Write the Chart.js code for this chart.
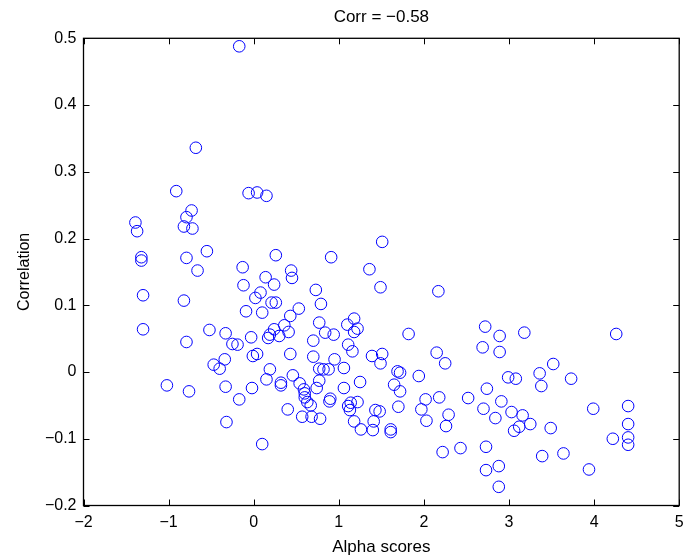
<!DOCTYPE html>
<html>
<head>
<meta charset="utf-8">
<script src="https://cdn.jsdelivr.net/npm/chart.js@4/dist/chart.umd.min.js"></script>
<style>
    html, body { margin: 0; padding: 0; background: #fff; }
    #wrap { width: 686px; height: 559px; }
</style>
</head>
<body>
<div id="wrap"><canvas id="corr-chart"></canvas></div>
<script>
const chartTitle = 'Corr = \u22120.58'
const xLabel = 'Alpha scores'
const yLabel = 'Correlation'
const xTicks = [-2, -1, 0, 1, 2, 3, 4, 5]
const yTicks = [-0.2, -0.1, 0, 0.1, 0.2, 0.3, 0.4, 0.5]

// alpha score of each point (x)
const alphaScores = [
    -0.17, -0.68, -0.91, -0.06, 0.04, 0.15, -0.73, -1.39, -1.37, -0.79,
    -0.82, -0.72, -1.32, -1.32, -0.79, -0.55, -0.66, -0.13, 0.26, 0.14,
    0.24, -0.12, 0.08, 0.02, 0.21, 0.26, -1.30, -0.82, -0.09, 0.10,
    -1.30, -0.52, -0.33, -0.03, 0.24, 0.19, 0.17, -0.79, -0.25, -0.19,
    -0.01, 0.04, -0.34, -0.47, -0.40, 0.19, 0.15, -1.02, -0.76, -0.33,
    -0.02, -0.17, -0.32, 0.10,
    1.51, 0.91, 1.36, 0.44, 0.45, 1.49, 2.17, 0.73, 0.79, 0.53,
    0.43, 0.77, 1.18, 1.10, 1.22, 1.18, 0.36, 0.41, 0.30, 0.84,
    0.94, 1.82, 0.70, 1.11, 1.16, 2.15, 0.43, 0.70, 0.95, 1.39,
    1.51, 1.49, 2.25, 0.32, 0.32, 0.46, 0.54, 0.77, 0.82, 0.88,
    1.06, 0.77, 0.74, 0.59, 0.60, 0.60, 0.63, 0.67, 0.40, 0.57,
    0.68, 0.78, 0.90, 0.89, 1.06, 1.25, 1.11, 1.14, 1.13, 1.22,
    1.18, 1.26, 1.40, 1.41, 1.43, 1.48, 1.61, 1.61, 1.69, 1.72,
    1.65, 1.72, 1.70, 1.94, 2.02, 1.97, 2.03, 2.18, 2.26, 2.22,
    2.72, 2.89, 3.18, 4.26, 2.69, 2.89, 3.52, 3.36, 2.99, 3.08,
    3.73, 3.38, 2.74, 2.52, 2.91, 2.70, 3.03, 3.16, 2.84, 2.29,
    3.25, 3.12, 3.06, 3.49, 3.99, 4.40, 4.40, 4.22, 4.40, 4.40,
    2.43, 2.73, 3.39, 3.64, 2.73, 2.88, 2.88, 3.94
]

// correlation of each point (y), same order
const correlations = [
    0.488, 0.336, 0.271, 0.268, 0.269, 0.264, 0.242, 0.224, 0.211, 0.232,
    0.218, 0.215, 0.172, 0.167, 0.171, 0.181, 0.152, 0.157, 0.175, 0.142,
    0.131, 0.130, 0.119, 0.111, 0.104, 0.104, 0.115, 0.107, 0.091, 0.089,
    0.064, 0.063, 0.058, 0.052, 0.064, 0.056, 0.051, 0.045, 0.042, 0.041,
    0.024, 0.027, 0.019, 0.011, 0.005, 0.004, -0.011, -0.020, -0.029, -0.022,
    -0.024, -0.041, -0.075, -0.108,
    0.195, 0.172, 0.154, 0.152, 0.141, 0.127, 0.121, 0.123, 0.102, 0.095,
    0.084, 0.074, 0.080, 0.071, 0.065, 0.060, 0.070, 0.060, 0.054, 0.059,
    0.056, 0.057, 0.047, 0.041, 0.031, 0.029, 0.027, 0.023, 0.019, 0.024,
    0.027, 0.013, 0.013, -0.016, -0.020, -0.005, -0.017, 0.005, 0.004, 0.004,
    0.006, -0.013, -0.024, -0.026, -0.032, -0.038, -0.045, -0.050, -0.056, -0.067,
    -0.067, -0.070, -0.040, -0.044, -0.024, -0.015, -0.051, -0.046, -0.057, -0.045,
    -0.074, -0.086, -0.087, -0.074, -0.057, -0.059, -0.086, -0.090, 0.001, -0.001,
    -0.019, -0.029, -0.052, -0.006, -0.041, -0.056, -0.073, -0.038, -0.081, -0.120,
    0.068, 0.054, 0.059, 0.057, 0.037, 0.030, 0.012, -0.002, -0.008, -0.010,
    -0.010, -0.021, -0.025, -0.039, -0.044, -0.055, -0.060, -0.065, -0.069, -0.064,
    -0.078, -0.082, -0.088, -0.084, -0.055, -0.051, -0.078, -0.100, -0.098, -0.109,
    -0.114, -0.112, -0.126, -0.122, -0.147, -0.141, -0.172, -0.146
]

let points = []
alphaScores.forEach((a, i) => {
    points.push({ x: a, y: correlations[i] })
})

function fmt(v) {
    v = Math.round(v * 10) / 10
    return v < 0 ? '\u2212' + Math.abs(v) : String(v)
}

// matlab style box with inward ticks on all four sides
const boxPlugin = {
    id: 'matlabBox',
    afterDraw(chart) {
        const { ctx, chartArea: a, scales } = chart
        ctx.save()
        ctx.strokeStyle = '#000'
        ctx.lineWidth = 1
        ctx.beginPath()
        xTicks.forEach(t => {
            const px = Math.round(scales.x.getPixelForValue(t)) + 0.5
            ctx.moveTo(px, a.bottom); ctx.lineTo(px, a.bottom - 6)
            ctx.moveTo(px, a.top); ctx.lineTo(px, a.top + 6)
        })
        yTicks.forEach(t => {
            const py = Math.round(scales.y.getPixelForValue(t)) + 0.5
            ctx.moveTo(a.left, py); ctx.lineTo(a.left + 6, py)
            ctx.moveTo(a.right, py); ctx.lineTo(a.right - 6, py)
        })
        ctx.stroke()
        ctx.lineWidth = 1.3
        ctx.strokeRect(a.left, a.top, a.right - a.left, a.bottom - a.top)
        ctx.restore()
    }
}

Chart.defaults.font.family = '"Liberation Sans", Arial, Helvetica, sans-serif'
Chart.defaults.font.size = 16
Chart.defaults.color = '#000'

const ctx = document.getElementById('corr-chart')
const myChart = new Chart(ctx, {
    type: 'scatter',
    data: {
        datasets: [{
            label: 'points',
            data: points,
            pointStyle: 'circle',
            pointRadius: 5.8,
            borderWidth: 1,
            borderColor: '#0000ff',
            backgroundColor: 'rgba(0,0,0,0)'
        }]
    },
    plugins: [boxPlugin],
    options: {
        responsive: true,
        maintainAspectRatio: false,
        animation: false,
        layout: {
            padding: { top: 0, right: 3.5, bottom: 0, left: 0 }
        },
        plugins: {
            legend: { display: false },
            tooltip: { enabled: false }
        },
        scales: {
            x: {
                type: 'linear',
                position: 'bottom',
                min: -2,
                max: 5,
                afterBuildTicks: s => { s.ticks = xTicks.map(v => ({ value: v })) },
                afterFit: s => { s.height = 53.5; s.paddingLeft = 0; s.paddingRight = 0 },
                grid: { display: false, drawTicks: false },
                border: { display: false },
                ticks: { padding: 7, callback: v => fmt(v), maxRotation: 0 },
                title: { display: true, text: xLabel, font: { size: 17 }, padding: { top: 0, bottom: 1.5 } }
            },
            top: {
                type: 'linear',
                position: 'top',
                min: -2,
                max: 5,
                afterFit: s => { s.height = 38.3; s.paddingLeft = 0; s.paddingRight = 0 },
                grid: { display: false, drawTicks: false },
                border: { display: false },
                ticks: { display: false },
                title: { display: true, text: chartTitle, font: { size: 17 }, padding: { top: 7.5, bottom: 0 } }
            },
            y: {
                type: 'linear',
                position: 'left',
                min: -0.2,
                max: 0.5,
                afterBuildTicks: s => { s.ticks = yTicks.map(v => ({ value: v })) },
                afterFit: s => { s.width = 83.5; s.paddingTop = 0; s.paddingBottom = 0 },
                grid: { display: false, drawTicks: false },
                border: { display: false },
                ticks: { padding: 7, callback: v => fmt(v) },
                title: { display: true, text: yLabel, padding: { top: 15, bottom: 0 } }
            }
        }
    }
})
</script>
</body>
</html>
